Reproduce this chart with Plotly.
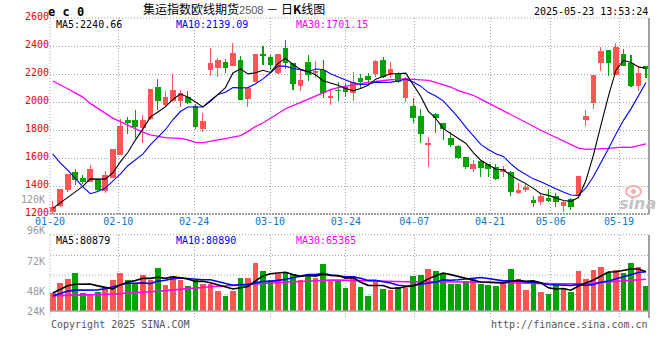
import numpy as np
import plotly.graph_objects as go

# ---------------- data ----------------
tick_labels = ["01-20", "02-10", "02-24", "03-10", "03-24", "04-07", "04-21", "05-06", "05-19"]
tick_day_idx = [0, 9, 19, 29, 39, 48, 58, 66, 75]

open_ = [1217, 1255, 1375, 1497, 1457, 1432, 1448, 1362, 1460, 1622,
         1871, 1870, 1812, 1876, 2105, 1980, 2010, 2010, 2038, 1970,
         1810, 2230, 2245, 2283, 2260, 2300, 2019, 2145, 2340, 2319,
         2205, 2383, 2276, 2117, 2283, 2205, 2229, 2031, 2086, 2105,
         2062, 2169, 2186, 2198, 2300, 2193, 2198, 2031, 1971, 1900,
         1693, 1912, 1848, 1740, 1686, 1607, 1524, 1579, 1555, 1538,
         1498, 1498, 1348, 1371, 1300, 1288, 1317, 1331, 1260, 1305,
         1331, 1871, 1995, 2281, 2371, 2193, 2343, 2276, 2114, 2257]
high = [1290, 1382, 1488, 1520, 1476, 1550, 1452, 1507, 1666, 1876,
        1890, 1943, 1905, 2095, 2164, 2080, 2197, 2086, 2080, 1985,
        1924, 2388, 2317, 2305, 2419, 2328, 2100, 2345, 2400, 2336,
        2342, 2443, 2280, 2229, 2336, 2293, 2300, 2086, 2140, 2133,
        2212, 2200, 2205, 2300, 2319, 2283, 2217, 2181, 2031, 1950,
        1752, 1918, 1850, 1788, 1690, 1610, 1586, 1582, 1560, 1555,
        1543, 1505, 1419, 1414, 1331, 1348, 1381, 1348, 1300, 1312,
        1473, 1943, 2195, 2395, 2375, 2424, 2379, 2336, 2248, 2260]
low = [1195, 1252, 1360, 1405, 1414, 1430, 1362, 1348, 1458, 1620,
       1770, 1740, 1705, 1870, 1943, 1975, 2000, 1962, 1985, 1805,
       1783, 2188, 2181, 2205, 2258, 2012, 1962, 2140, 2264, 2229,
       2200, 2233, 2086, 2081, 2152, 2174, 2031, 1976, 2010, 2038,
       2010, 2090, 2126, 2181, 2174, 2169, 2138, 2002, 1852, 1705,
       1533, 1781, 1728, 1681, 1595, 1519, 1502, 1467, 1467, 1445,
       1467, 1331, 1345, 1360, 1252, 1264, 1288, 1252, 1217, 1229,
       1329, 1829, 1950, 2224, 2188, 2190, 2255, 2105, 2079, 2174]
close = [1252, 1378, 1485, 1443, 1430, 1520, 1372, 1478, 1664, 1828,
         1852, 1818, 1870, 2093, 2010, 2036, 2083, 2062, 1990, 1825,
         1866, 2278, 2300, 2245, 2347, 2014, 2098, 2343, 2332, 2267,
         2340, 2276, 2126, 2157, 2193, 2224, 2062, 2043, 2079, 2074,
         2145, 2145, 2157, 2293, 2181, 2236, 2145, 2174, 1883, 1769,
         1705, 1888, 1807, 1693, 1602, 1538, 1557, 1531, 1524, 1450,
         1519, 1357, 1371, 1390, 1276, 1331, 1295, 1288, 1288, 1248,
         1471, 1900, 2193, 2364, 2281, 2395, 2257, 2114, 2210, 2235]

ma5 = [1240, 1280, 1320, 1358, 1397, 1451, 1450, 1449, 1493, 1572,
       1639, 1728, 1806, 1892, 1929, 1965, 2018, 2057, 2036, 1999,
       1965, 2004, 2052, 2103, 2207, 2237, 2201, 2209, 2227, 2211,
       2276, 2312, 2268, 2233, 2218, 2195, 2152, 2136, 2120, 2096,
       2081, 2097, 2120, 2163, 2184, 2202, 2202, 2206, 2124, 2041,
       1935, 1884, 1810, 1772, 1739, 1706, 1639, 1584, 1550, 1520,
       1516, 1476, 1444, 1417, 1383, 1345, 1333, 1316, 1296, 1290,
       1318, 1439, 1620, 1835, 2042, 2227, 2298, 2282, 2251, 2241]
ma10 = [1629, 1565, 1514, 1452, 1395, 1345, 1360, 1385, 1432, 1485,
        1545, 1589, 1628, 1693, 1751, 1802, 1873, 1932, 1964, 1964,
        1965, 2011, 2054, 2070, 2103, 2101, 2103, 2131, 2165, 2209,
        2256, 2256, 2239, 2230, 2215, 2236, 2232, 2202, 2177, 2157,
        2138, 2125, 2128, 2142, 2140, 2142, 2150, 2163, 2143, 2113,
        2069, 2043, 2008, 1948, 1890, 1820, 1762, 1697, 1661, 1630,
        1611, 1558, 1514, 1484, 1451, 1431, 1404, 1380, 1357, 1336,
        1332, 1386, 1468, 1565, 1666, 1772, 1869, 1951, 2043, 2139]
ma30 = [2150, 2125, 2095, 2065, 2035, 1990, 1955, 1920, 1885, 1860,
        1835, 1805, 1785, 1765, 1755, 1745, 1742, 1740, 1730, 1712,
        1710, 1722, 1730, 1738, 1748, 1760, 1790, 1825, 1850, 1886,
        1922, 1952, 1974, 1997, 2023, 2046, 2069, 2088, 2102, 2110,
        2120, 2131, 2140, 2147, 2153, 2159, 2161, 2165, 2162, 2160,
        2154, 2141, 2125, 2107, 2082, 2066, 2048, 2021, 1994, 1967,
        1939, 1909, 1883, 1858, 1827, 1798, 1772, 1747, 1720, 1693,
        1670, 1662, 1663, 1666, 1669, 1674, 1678, 1676, 1687, 1701]

volume = [36400, 58360, 66600, 78970, 37770, 35710, 39830, 50130, 64550, 78970,
          64550, 54930, 74160, 63860, 89270, 53560, 72100, 63860, 51500, 63860,
          55620, 55620, 41890, 31590, 41890, 68670, 68670, 99570, 82400, 63860,
          75530, 77590, 76220, 63860, 74160, 67290, 96820, 63860, 62490, 48070,
          72100, 50130, 31590, 63860, 45320, 43260, 50130, 48070, 72100, 74160,
          86520, 82400, 76220, 55620, 55620, 62490, 68670, 55620, 53560, 51500,
          58360, 86520, 65920, 43260, 55620, 39140, 35020, 53560, 48070, 38450,
          82400, 65920, 84460, 89950, 79650, 84460, 78970, 99570, 89950, 51500]
vol_ma5 = [37000, 45000, 52000, 55000, 55620, 55482, 51776, 48482, 45598, 53838,
           59606, 62626, 67432, 67294, 69354, 67156, 70590, 68530, 66058, 60976,
           61388, 58092, 53698, 49716, 45322, 47932, 50542, 62078, 72240, 76634,
           78006, 79790, 75120, 71412, 73472, 71824, 75670, 73198, 72924, 67706,
           68668, 59330, 52876, 53150, 52600, 46832, 46832, 50128, 51776, 57544,
           66196, 72650, 78280, 74984, 71276, 66470, 63724, 59604, 59192, 58368,
           57542, 61112, 63172, 61112, 61936, 58092, 47792, 45320, 46282, 42848,
           51500, 57680, 63860, 72236, 80476, 80888, 83498, 86520, 86520, 80879]
vol_ma10 = [31000, 36000, 41000, 43000, 43000, 43000, 43500, 46000, 50000, 54729,
            57544, 57201, 57957, 56446, 61596, 63381, 66608, 67981, 66676, 65165,
            64272, 64341, 61114, 57887, 53149, 54660, 54317, 57888, 60978, 60978,
            62969, 65166, 68599, 71826, 75053, 74915, 77730, 74159, 72168, 70589,
            70246, 67500, 63037, 63037, 60153, 57750, 53081, 51502, 52463, 55072,
            56514, 59741, 64204, 63380, 64410, 66333, 68187, 68942, 67088, 64822,
            62006, 62418, 61388, 60152, 60152, 57817, 54452, 54246, 53697, 52392,
            54796, 52736, 54590, 59259, 61662, 66194, 70589, 75190, 79378, 80890]
vol_ma30 = [31600, 31800, 32000, 32300, 32600, 33000, 33500, 34200, 35000, 35800,
            36300, 37300, 38500, 39800, 40800, 42000, 43500, 45000, 46400, 47800,
            49000, 50100, 50900, 51500, 52000, 53000, 54300, 55600, 56800, 57800,
            58700, 59500, 60200, 60900, 61800, 62700, 63500, 63800, 63500, 63000,
            62500, 62000, 61300, 60800, 60500, 60300, 60200, 60200, 60200, 60300,
            60400, 60400, 60400, 60300, 60100, 59900, 59600, 59400, 59200, 59000,
            58700, 58300, 57900, 57600, 57200, 56800, 56300, 55800, 55600, 55700,
            56000, 56600, 57600, 59000, 60500, 61800, 62800, 63600, 64400, 65365]

price_ticks = [1200, 1400, 1600, 1800, 2000, 2200, 2400, 2600]

# ---------------- layout geometry ----------------
W, H = 660, 360
L, R, T, B = 50, 11, 18, 42
PW, PH = W - L - R, H - T - B


def px(x):
    return (x - L) / PW


def py(y):
    return (H - B - y) / PH


MONO = "DejaVu Sans Mono"
RED = "#ff5454"
GREEN = "#00a400"
GRID = "#a4a4a4"
BORDER = "#a0a0a0"

o = np.array(open_, float)
c = np.array(close, float)
h = np.array(high, float)
lo = np.array(low, float)
n = len(c)
idx = np.arange(n)
colors = np.where(c >= o, RED, GREEN).tolist()
body_base = np.minimum(o, c)
body_h = np.maximum(np.abs(c - o), 6)

slot_px = 7.51          # pixels per candle
first_px = 52.7         # centre of the first candle
x0 = (L - first_px) / slot_px
x1 = x0 + PW / slot_px
grid_step = 7.587 / slot_px
tick_x = [x0 + 1e-6 + grid_step * k for k in tick_day_idx]

vol_px = 2060.0         # volume units per pixel
vol_base_px = 311.0
y_vol_top = 234.7
vol_range = [-(H - B - vol_base_px) * vol_px, (vol_base_px - y_vol_top) * vol_px]

fig = go.Figure()
# candle wicks and bodies
fig.add_trace(go.Bar(x=idx, y=h - lo, base=lo, width=0.14,
                     marker=dict(color=colors, line=dict(width=0)),
                     xaxis="x", yaxis="y", hoverinfo="skip"))
fig.add_trace(go.Bar(x=idx, y=body_h, base=body_base, width=0.75,
                     marker=dict(color=colors, line=dict(width=0)),
                     xaxis="x", yaxis="y", hoverinfo="skip"))
for arr, col, wd in [(ma30, "#ff00ff", 1.3), (ma10, "#0000ff", 1.1), (ma5, "#000000", 1.1)]:
    fig.add_trace(go.Scatter(x=idx, y=arr, mode="lines", line=dict(color=col, width=wd),
                             xaxis="x", yaxis="y", hoverinfo="skip"))
# volume
fig.add_trace(go.Bar(x=idx, y=volume, width=0.75,
                     marker=dict(color=colors, line=dict(width=0)),
                     xaxis="x2", yaxis="y2", hoverinfo="skip"))
for arr, col in [(vol_ma30, "#ff00ff"), (vol_ma10, "#0000ff"), (vol_ma5, "#000000")]:
    fig.add_trace(go.Scatter(x=idx, y=arr, mode="lines", line=dict(color=col, width=1.6),
                             xaxis="x2", yaxis="y2", hoverinfo="skip"))

dotted = dict(color=GRID, width=1, dash="1px,2px")
shapes = []


def hline(y, line, layer="above"):
    shapes.append(dict(type="line", xref="paper", yref="paper", x0=0, x1=1,
                       y0=py(y), y1=py(y), line=line, layer=layer))


def vline(x, ya, yb, line, layer="above"):
    shapes.append(dict(type="line", xref="paper", yref="paper", x0=px(x), x1=px(x),
                       y0=py(ya), y1=py(yb), line=line, layer=layer))


# price panel frame
hline(T, dotted)
vline(L, T, 214, dotted)
hline(214, dict(color=BORDER, width=2, dash="2px,1px"))
vline(W - R, T, 214, dict(color=BORDER, width=2))
# volume panel frame and grid
for gy in (255.5, 275.0, 294.5):
    hline(gy, dotted, layer="below")
hline(y_vol_top, dotted)
vline(L, y_vol_top, H - B, dotted)
vline(W - R, y_vol_top, H - B, dict(color=BORDER, width=2))
hline(vol_base_px, dict(color=BORDER, width=1.5))
# sina watermark eye
shapes.append(dict(type="circle", xref="paper", yref="paper",
                   x0=px(626), x1=px(641), y0=py(197), y1=py(186),
                   line=dict(color="#f4b0b0", width=2), layer="above"))
shapes.append(dict(type="circle", xref="paper", yref="paper",
                   x0=px(631), x1=px(636), y0=py(194), y1=py(189),
                   fillcolor="#f4b0b0", line=dict(width=0), layer="above"))

ann = []


def text(x, y, s, color="#000", size=10, anchor="left", family=MONO):
    ann.append(dict(x=px(x), y=py(y), xref="paper", yref="paper", text=s, showarrow=False,
                    xanchor=anchor, yanchor="middle", font=dict(family=family, size=size, color=color)))


text(46, 12, "<b>e c 0</b>", size=12)
text(141, 9, '集运指数欧线期货<span style="color:#555555;font-family:Liberation Sans;font-size:11px">2508</span> － 日<b>K</b>线图',
     size=12, family="Noto Sans CJK SC")
text(650, 12, "2025-05-23 13:53:24", anchor="right")
text(54, 24, "MA5:2240.66")
text(174, 24, "MA10:2139.09", color="#0000ff")
text(294, 24, "MA30:1701.15", color="#ff00ff")
text(54, 240, "MA5:80879")
text(174, 240, "MA10:80890", color="#0000ff")
text(294, 240, "MA30:65365", color="#ff00ff")
for lab, yy in [("120K", 199.5), ("96K", 230.5), ("72K", 261), ("48K", 291), ("24K", 311)]:
    text(47, yy, lab, color="#999999", anchor="right")
text(49, 324, "Copyright 2025 SINA.COM", color="#555555")
text(650, 324, "http://finance.sina.com.cn", color="#555555", anchor="right")
text(637, 203, "<b><i>sina</i></b>", color="#c4c4c4", size=16, anchor="center", family="DejaVu Sans")

fig.update_layout(
    width=W, height=H, margin=dict(l=L, r=R, t=T, b=B, pad=0),
    paper_bgcolor="white", plot_bgcolor="white", showlegend=False,
    barmode="overlay", bargap=0, hovermode=False,
    xaxis=dict(domain=[0, 1], range=[x0, x1], anchor="y", tickmode="array",
               tickvals=tick_x, ticktext=tick_labels, showgrid=True, gridcolor=GRID,
               griddash="1px,2px", gridwidth=1, zeroline=False, showline=False, ticks="",
               tickfont=dict(family=MONO, size=10, color="#0a78c8"), automargin=False),
    yaxis=dict(domain=[py(214), 1], range=[price_ticks[0], price_ticks[-1]], tickmode="array",
               tickvals=price_ticks, ticktext=[str(v) for v in price_ticks],
               showgrid=True, gridcolor=GRID, griddash="1px,2px", gridwidth=1,
               zeroline=False, showline=False, ticks="", ticklabelshift=-2,
               tickfont=dict(family=MONO, size=10, color="#ee0000"), automargin=False),
    xaxis2=dict(domain=[0, 1], range=[x0, x1], anchor="y2", matches="x", tickmode="array",
                tickvals=tick_x, showticklabels=False, showgrid=True, gridcolor=GRID,
                griddash="1px,2px", gridwidth=1, zeroline=False, showline=False, ticks=""),
    yaxis2=dict(domain=[0, py(y_vol_top)], range=vol_range, showgrid=False,
                showticklabels=False, zeroline=False, showline=False, ticks=""),
    shapes=shapes, annotations=ann,
)

# remove the browser's default 8px page margin so the figure sits at the window's corner
fig.write_html("out.html", config={"displayModeBar": False, "staticPlot": True},
               post_script="document.body.style.margin='0';document.body.style.overflow='hidden';")
